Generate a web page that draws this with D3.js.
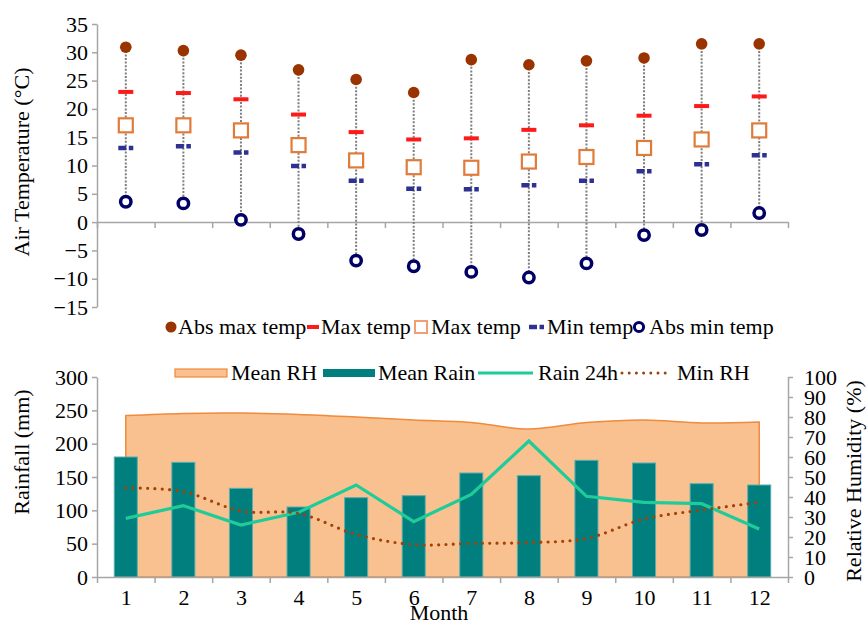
<!DOCTYPE html>
<html>
<head>
<meta charset="utf-8">
<script src="https://cdn.jsdelivr.net/npm/d3@7"></script>
<style>
  body { margin: 0; background: #fff; }
  svg text { font-family: 'Liberation Serif', 'Times New Roman', Times, 'DejaVu Serif', serif; fill: #000; }
</style>
</head>
<body>
<div id="chart"></div>
<script>
// month numbers
const months = [1, 2, 3, 4, 5, 6, 7, 8, 9, 10, 11, 12];

// air temperature (°C)
const absMaxTemp = [30.9, 30.3, 29.5, 26.9, 25.2, 22.9, 28.7, 27.8, 28.5, 29.0, 31.5, 31.5];
const maxTemp = [23.0, 22.8, 21.7, 19.0, 15.9, 14.6, 14.8, 16.3, 17.1, 18.8, 20.5, 22.2];
const maxTemp2 = [17.1, 17.1, 16.2, 13.6, 10.9, 9.7, 9.6, 10.7, 11.5, 13.1, 14.6, 16.2];
const minTemp = [13.1, 13.4, 12.3, 9.9, 7.3, 5.9, 5.8, 6.5, 7.3, 9.0, 10.2, 11.8];
const absMinTemp = [3.6, 3.3, 0.4, -2.1, -6.8, -7.8, -8.8, -9.8, -7.3, -2.3, -1.4, 1.6];

// rainfall (mm) and relative humidity (%)
const meanRain = [180, 172, 133, 105, 119, 122, 156, 152, 175, 171, 140, 138];
const rain24h = [88, 107, 78, 97, 138, 83, 124, 204, 121, 112, 110, 72];
const meanRH = [80.7, 81.8, 82.0, 81.3, 80.0, 78.5, 77.2, 74.0, 77.2, 78.5, 77.0, 77.5];
const minRH = [44.6, 42.7, 33.0, 31.8, 21.3, 16.2, 16.8, 17.2, 19.3, 29.0, 33.5, 37.3];

const tempTicks = d3.range(-15, 36, 5);
const rainTicks = d3.range(0, 301, 50);
const rhTicks = d3.range(0, 101, 10);

const width = 867, height = 624;
const axisColor = "#a6a6a6";
const serif = "'Liberation Serif', 'Times New Roman', Times, 'DejaVu Serif', serif";
const fontSize = 22;

const svg = d3.select("#chart").append("svg")
  .attr("width", width)
  .attr("height", height)
  .attr("font-family", serif);

const x = d3.scaleLinear().domain([0.5, 12.5]).range([97, 788]);
const yT = d3.scaleLinear().domain([-15, 35]).range([307, 24]);
const yR = d3.scaleLinear().domain([0, 300]).range([577, 377]);
const yH = d3.scaleLinear().domain([0, 100]).range([577, 377]);

function styleAxis(g) {
  g.attr("font-family", serif).attr("font-size", fontSize);
  g.select(".domain").attr("stroke", axisColor).attr("stroke-width", 1.5);
  g.selectAll(".tick line").attr("stroke", axisColor).attr("stroke-width", 1.5);
  g.selectAll(".tick text")
    .style("font-family", serif)
    .style("font-size", fontSize + "px")
    .attr("fill", "#000");
}

// ---------- top panel: temperature ----------
svg.append("g")
  .attr("transform", `translate(${x(0.5)},0)`)
  .call(d3.axisLeft(yT).tickValues(tempTicks).tickSize(5).tickPadding(4).tickSizeOuter(0))
  .call(styleAxis);

svg.append("g")
  .attr("transform", `translate(0,${yT(0)})`)
  .call(d3.axisBottom(x).tickValues(d3.range(0.5, 13, 1)).tickSize(6).tickFormat("").tickSizeOuter(0))
  .call(styleAxis);

const cols = svg.append("g").selectAll("g")
  .data(months)
  .join("g")
  .attr("transform", d => `translate(${x(d)},0)`);

// high-low lines
cols.append("line")
  .attr("y1", (d, i) => yT(absMaxTemp[i]))
  .attr("y2", (d, i) => yT(absMinTemp[i]))
  .attr("stroke", "#7f7f7f")
  .attr("stroke-width", 2)
  .attr("stroke-dasharray", "2,1.6");

cols.append("rect")
  .attr("x", -7).attr("width", 14)
  .attr("y", (d, i) => yT(maxTemp2[i]) - 7).attr("height", 14)
  .attr("fill", "#fff")
  .attr("stroke", "#e07b39")
  .attr("stroke-width", 2.2);

cols.append("rect")
  .attr("x", -7.5).attr("width", 15)
  .attr("y", (d, i) => yT(maxTemp[i]) - 2).attr("height", 4)
  .attr("fill", "#ff1a1a");

cols.append("line")
  .attr("x1", -7.5).attr("x2", 7.5)
  .attr("y1", (d, i) => yT(minTemp[i])).attr("y2", (d, i) => yT(minTemp[i]))
  .attr("stroke", "#2e3192")
  .attr("stroke-width", 4.5)
  .attr("stroke-dasharray", "8,2.5,4.5");

cols.append("circle")
  .attr("cy", (d, i) => yT(absMaxTemp[i]))
  .attr("r", 5.8)
  .attr("fill", "#993300");

cols.append("circle")
  .attr("cy", (d, i) => yT(absMinTemp[i]))
  .attr("r", 5.2)
  .attr("fill", "#fff")
  .attr("stroke", "#000066")
  .attr("stroke-width", 3.5);

svg.append("text")
  .attr("transform", "translate(29,162) rotate(-90)")
  .attr("text-anchor", "middle")
  .style("font-size", fontSize + "px")
  .text("Air Temperature (°C)");

// top legend
const legT = svg.append("g").attr("transform", "translate(0,327)");
legT.append("circle").attr("cx", 171).attr("r", 5.5).attr("fill", "#993300");
legT.append("rect").attr("x", 307).attr("y", -2).attr("width", 12).attr("height", 4).attr("fill", "#ff1a1a");
legT.append("rect").attr("x", 415).attr("y", -6).attr("width", 12).attr("height", 12)
  .attr("fill", "#fff").attr("stroke", "#f0a070").attr("stroke-width", 2);
legT.append("line").attr("x1", 529).attr("x2", 544)
  .attr("stroke", "#2e3192").attr("stroke-width", 4.5).attr("stroke-dasharray", "8,2.5,4.5");
legT.append("circle").attr("cx", 639).attr("r", 4.6)
  .attr("fill", "#fff").attr("stroke", "#000066").attr("stroke-width", 3);
[["Abs max temp", 178], ["Max temp", 321], ["Max temp", 431], ["Min temp", 547], ["Abs min temp", 649]]
  .forEach(([t, lx]) => {
    legT.append("text").attr("x", lx).attr("y", 7)
      .style("font-size", fontSize + "px").text(t);
  });

// ---------- bottom panel: rainfall & RH ----------
const area = d3.area()
  .x((d, i) => x(months[i]))
  .y0(yH(0))
  .y1(d => yH(d))
  .curve(d3.curveCatmullRom.alpha(0.5));

svg.append("path")
  .datum(meanRH)
  .attr("d", area)
  .attr("fill", "#f9c18f")
  .attr("stroke", "#f08a3c")
  .attr("stroke-width", 1.5);

const barW = (x(2) - x(1)) * 0.4;
svg.append("g").selectAll("rect")
  .data(meanRain)
  .join("rect")
  .attr("x", (d, i) => x(months[i]) - barW / 2)
  .attr("width", barW)
  .attr("y", d => yR(d))
  .attr("height", d => yR(0) - yR(d))
  .attr("fill", "#007f7e")
  .attr("stroke", "#5aaeae")
  .attr("stroke-width", 1);

svg.append("path")
  .datum(rain24h)
  .attr("d", d3.line().x((d, i) => x(months[i])).y(d => yR(d)))
  .attr("fill", "none")
  .attr("stroke", "#1fcc99")
  .attr("stroke-width", 3.2);

svg.append("path")
  .datum(minRH)
  .attr("d", d3.line().x((d, i) => x(months[i])).y(d => yH(d)).curve(d3.curveCatmullRom.alpha(0.5)))
  .attr("fill", "none")
  .attr("stroke", "#a0420a")
  .attr("stroke-width", 3.2)
  .attr("stroke-linecap", "round")
  .attr("stroke-dasharray", "0,7.3");

svg.append("g")
  .attr("transform", `translate(${x(0.5)},0)`)
  .call(d3.axisLeft(yR).tickValues(rainTicks).tickSize(5).tickPadding(4).tickSizeOuter(0))
  .call(styleAxis);

svg.append("g")
  .attr("transform", `translate(${x(12.5)},0)`)
  .call(d3.axisRight(yH).tickValues(rhTicks).tickSize(5).tickPadding(11).tickSizeOuter(0))
  .call(styleAxis);

svg.append("g")
  .attr("transform", `translate(0,${yR(0)})`)
  .call(d3.axisBottom(x).tickValues(d3.range(0.5, 13, 1)).tickSize(6).tickFormat("").tickSizeOuter(0))
  .call(styleAxis);

svg.append("g")
  .attr("transform", `translate(0,${yR(0)})`)
  .call(d3.axisBottom(x).tickValues(months).tickSize(0).tickPadding(12).tickFormat(d3.format("d")))
  .call(g => g.select(".domain").remove())
  .call(styleAxis);

svg.append("text")
  .attr("x", 439).attr("y", 620)
  .attr("text-anchor", "middle")
  .style("font-size", fontSize + "px")
  .text("Month");

svg.append("text")
  .attr("transform", "translate(29,452) rotate(-90)")
  .attr("text-anchor", "middle")
  .style("font-size", fontSize + "px")
  .text("Rainfall (mm)");

svg.append("text")
  .attr("transform", "translate(861,481) rotate(-90)")
  .attr("text-anchor", "middle")
  .style("font-size", fontSize + "px")
  .text("Relative Humidity (%)");

// bottom legend
const legB = svg.append("g").attr("transform", "translate(0,373)");
legB.append("rect").attr("x", 175).attr("y", -4).attr("width", 52).attr("height", 8)
  .attr("fill", "#f9c18f").attr("stroke", "#f08a3c").attr("stroke-width", 1.2);
legB.append("rect").attr("x", 323).attr("y", -4).attr("width", 52).attr("height", 8)
  .attr("fill", "#007f7e");
legB.append("line").attr("x1", 478).attr("x2", 533)
  .attr("stroke", "#1fcc99").attr("stroke-width", 3.2);
legB.append("line").attr("x1", 622).attr("x2", 672)
  .attr("stroke", "#a0420a").attr("stroke-width", 3).attr("stroke-linecap", "round")
  .attr("stroke-dasharray", "0,7.2");
[["Mean RH", 231], ["Mean Rain", 378], ["Rain 24h", 538], ["Min RH", 677]]
  .forEach(([t, lx]) => {
    legB.append("text").attr("x", lx).attr("y", 7)
      .style("font-size", fontSize + "px").text(t);
  });
</script>
</body>
</html>
